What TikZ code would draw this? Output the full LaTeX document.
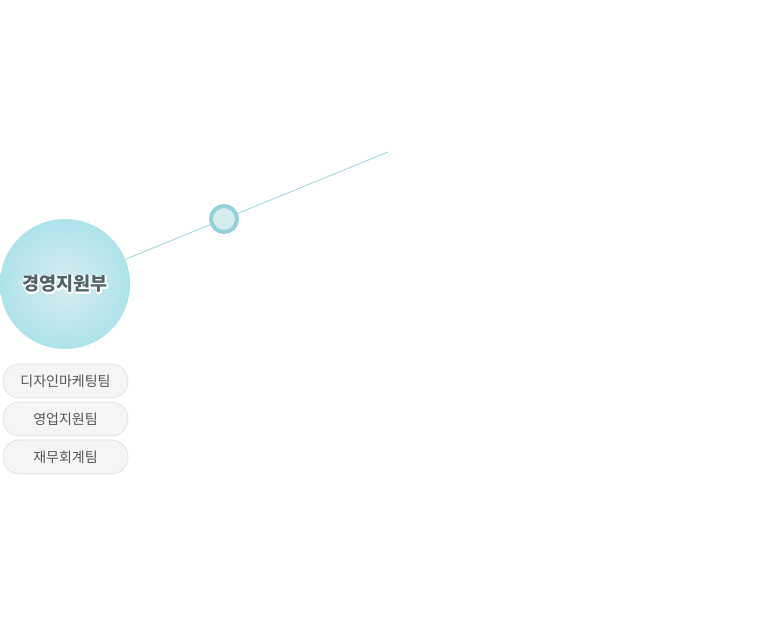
\documentclass[tikz,border=0pt]{standalone}
\usepackage{fontspec}
\setmainfont{Noto Sans CJK KR}
\definecolor{deptteal}{HTML}{AEE3EA}
\definecolor{deptlight}{HTML}{D6EDF0}
\definecolor{deptink}{HTML}{4E6468}
\definecolor{ringteal}{HTML}{92D1D9}
\definecolor{linkteal}{HTML}{9CD2D9}
\definecolor{teamfill}{HTML}{F5F5F5}
\definecolor{teamedge}{HTML}{E1E1E1}
\definecolor{teamink}{HTML}{555555}
% white halo behind the department name
\newcommand\halotext[1]{\rlap{\color{white}\special{pdf:literal direct 1 Tr 2.8 w 1 j}#1\special{pdf:literal direct 0 Tr 1 w}}#1}
\tikzset{dept/.style={circle, minimum size=130pt, inner sep=0pt, shading=radial, inner color=deptlight, outer color=deptteal, font=\fontsize{18.5}{18.5}\selectfont\bfseries, text=deptink}}
\tikzset{knot/.style={circle, draw=ringteal, line width=4pt, fill=deptlight, minimum size=26pt, inner sep=0pt}}
\tikzset{team/.style={draw=teamedge, line width=0.7pt, fill=teamfill, rounded corners=16.5pt, minimum width=125pt, minimum height=34pt, inner sep=0pt, font=\fontsize{14}{14}\selectfont, text=teamink}}

\begin{document}
\begin{tikzpicture}[x=1pt, y=-1pt]
\path [use as bounding box] (0,0) rectangle (777,628);
\node [dept] (support) at (65,284) {\halotext{경영지원부}};
\coordinate (linkend) at (388,152);
\draw [linkteal, line width=0.8pt] (support) -- (linkend);
\node [knot] (joint) at (224,219) {};
\foreach \y/\t/\n in {381/디자인마케팅팀/design, 419/영업지원팀/sales, 457/재무회계팀/finance} {
  \node [team] (\n) at (65.5,\y) {\t};
}
\end{tikzpicture}
\end{document}
